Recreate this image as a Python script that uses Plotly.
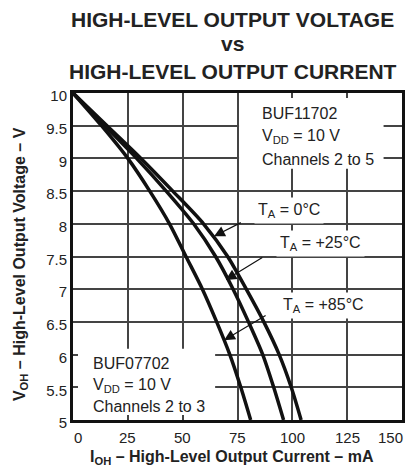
import plotly.graph_objects as go

# ---- data ----
v_oh = [10, 9.5, 9, 8.5, 8, 7.5, 7, 6.5, 6, 5.5, 5]
i_oh_0c = [0, 15.5, 31, 45.5, 59.5, 70.5, 79, 87, 94, 99.5, 104]
i_oh_25c = [0, 14.5, 29, 42.5, 55, 65, 73, 80, 86.5, 91.5, 96]
i_oh_85c = [0, 13, 25, 35, 44, 51.5, 59, 65.5, 71.5, 76.5, 81]

x_ticks = [0, 25, 50, 75, 100, 125, 150]
x_tick_labels = ["0", "25", "50", "75", "100", "125", "150"]
y_ticks = [5, 5.5, 6, 6.5, 7, 7.5, 8, 8.5, 9, 9.5, 10]
y_tick_labels = ["5", "5.5", "6", "6.5", "7", "7.5", "8", "8.5", "9", "9.5", "10"]

title_lines = ["HIGH-LEVEL OUTPUT VOLTAGE", "vs", "HIGH-LEVEL OUTPUT CURRENT"]
title_y = [1.226, 1.150, 1.066]

x_title = "I<sub>OH</sub> – High-Level Output Current – mA"
y_title = "V<sub>OH</sub> – High-Level Output Voltage – V"

temp_labels = ["T<sub>A</sub> = 0°C", "T<sub>A</sub> = +25°C", "T<sub>A</sub> = +85°C"]
temp_label_pos = [(82.5, 8.21), (92.5, 7.70), (93.9, 6.75)]
arrow_tips = [(64.3, 7.81), (69.6, 7.14), (68.9, 6.22)]
arrow_tails = [(77.2, 8.03), (87.0, 7.50), (88.5, 6.61)]

buf117_lines = ["BUF11702", "V<sub>DD</sub> = 10 V", "Channels 2 to 5"]
buf117_y = [9.69, 9.33, 8.98]
buf077_lines = ["BUF07702", "V<sub>DD</sub> = 10 V", "Channels 2 to 3"]
buf077_y = [5.86, 5.53, 5.21]

FONT = "Liberation Sans, Arial, Helvetica, sans-serif"

fig = go.Figure()
for xs in (i_oh_0c, i_oh_25c, i_oh_85c):
    fig.add_trace(go.Scatter(x=xs, y=v_oh, mode="lines",
                             line=dict(color="#111111", width=3.5, shape="spline", smoothing=0.8),
                             showlegend=False, hoverinfo="skip"))

# white boxes that interrupt the grid behind text blocks
fig.add_shape(type="rect", x0=75.7, x1=141.6, y0=8.84, y1=9.93, xref="x", yref="y",
              fillcolor="white", line=dict(width=0), layer="between")
fig.add_shape(type="rect", x0=0, x1=64.8, y0=5, y1=6.09, xref="x", yref="y",
              fillcolor="white", line=dict(width=0), layer="between")

anns = []
for t, yv in zip(title_lines, title_y):
    anns.append(dict(x=0.486, y=yv, xref="paper", yref="paper", text="<b>" + t + "</b>",
                     showarrow=False, xanchor="center", yanchor="middle",
                     font=dict(size=21, color="#222", family=FONT)))
# x tick labels (end labels nudged inward as in the reference)
for i, (v, t) in enumerate(zip(x_ticks, x_tick_labels)):
    shift = 5 if i == 0 else (-12 if i == len(x_ticks) - 1 else 0)
    anns.append(dict(x=v, y=-0.052, xref="x", yref="paper", text=t, showarrow=False,
                     xanchor="center", yanchor="middle", xshift=shift,
                     font=dict(size=15, color="#222", family=FONT)))
anns.append(dict(x=0.482, y=-0.115, xref="paper", yref="paper", text="<b>" + x_title + "</b>",
                 showarrow=False, xanchor="center", yanchor="middle",
                 font=dict(size=16, color="#222", family=FONT)))
anns.append(dict(x=-0.161, y=0.477, xref="paper", yref="paper", text="<b>" + y_title + "</b>",
                 showarrow=False, xanchor="center", yanchor="middle", textangle=-90,
                 font=dict(size=16, color="#222", family=FONT)))
for t, yv in zip(buf117_lines, buf117_y):
    anns.append(dict(x=85.2, y=yv, xref="x", yref="y", text=t, showarrow=False,
                     xanchor="left", yanchor="middle", font=dict(size=16, color="#222", family=FONT)))
for t, yv in zip(buf077_lines, buf077_y):
    anns.append(dict(x=8.4, y=yv, xref="x", yref="y", text=t, showarrow=False,
                     xanchor="left", yanchor="middle", font=dict(size=16, color="#222", family=FONT)))
for t, (xv, yv) in zip(temp_labels, temp_label_pos):
    anns.append(dict(x=xv, y=yv, xref="x", yref="y", text=t, showarrow=False,
                     xanchor="left", yanchor="middle", bgcolor="white", borderpad=3,
                     font=dict(size=16, color="#222", family=FONT)))
for (tx, ty), (ax, ay) in zip(arrow_tips, arrow_tails):
    anns.append(dict(x=tx, y=ty, ax=ax, ay=ay, xref="x", yref="y", axref="x", ayref="y",
                     text="", showarrow=True, arrowhead=2, arrowsize=1.8, arrowwidth=1.2,
                     arrowcolor="#111", standoff=0))

# the page body adds an 8px margin, so the figure is sized/margined to compensate
fig.update_layout(
    width=405, height=464,
    margin=dict(l=65, r=11, t=85, b=52, autoexpand=False),
    paper_bgcolor="white", plot_bgcolor="white",
    font=dict(family=FONT, color="#222", size=15),
    annotations=anns,
)
fig.update_xaxes(range=[0, 150], tickvals=x_ticks, showticklabels=False,
                 showgrid=True, gridcolor="#444", gridwidth=1.5,
                 showline=True, linecolor="#111", linewidth=3, mirror="allticks",
                 ticks="inside", ticklen=5, tickcolor="#444", tickwidth=1.5,
                 zeroline=False, automargin=False)
fig.update_yaxes(range=[5, 10], tickvals=y_ticks, ticktext=y_tick_labels,
                 showgrid=True, gridcolor="#444", gridwidth=1.5,
                 showline=True, linecolor="#111", linewidth=3, mirror="allticks",
                 ticks="inside", ticklen=5, tickcolor="#444", tickwidth=1.5,
                 zeroline=False, ticklabelshift=3, ticklabelstandoff=0,
                 ticklabeloverflow="allow", automargin=False)

fig.write_html("out.html")
